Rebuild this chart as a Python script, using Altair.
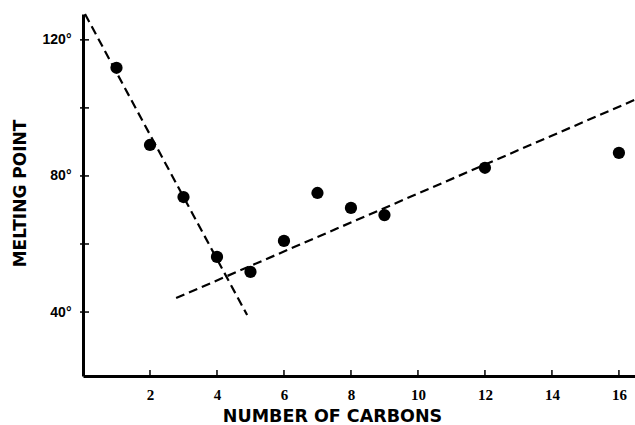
import altair as alt
import pandas as pd

carbons = [1, 2, 3, 4, 5, 6, 7, 8, 9, 12, 16]
melting = [111.8, 89.1, 73.8, 56.2, 51.8, 60.9, 75.0, 70.6, 68.5, 82.4, 86.8]

line1_x = [0.06, 4.9]
line1_y = [127.6, 39.1]
line2_x = [2.78, 16.48]
line2_y = [44.1, 102.4]

x_ticks = [2, 4, 6, 8, 10, 12, 14, 16]
y_ticks = [40, 60, 80, 100, 120]

pts = pd.DataFrame({"c": carbons, "m": melting})
lines = pd.DataFrame({
    "c": line1_x + line2_x,
    "m": line1_y + line2_y,
    "g": ["a", "a", "b", "b"],
})
xt = pd.DataFrame({"c": x_ticks})
yt = pd.DataFrame({"m": y_ticks})

xs = alt.Scale(domain=[0, 16.48], nice=False, zero=False)
ys = alt.Scale(domain=[21.2, 127.6], nice=False, zero=False)

W, H = 552, 362

xaxis = alt.Axis(
    values=x_ticks, tickSize=0, labelPadding=11, domainWidth=3, domainColor="black",
    labelFont="Liberation Serif", labelFontSize=15, labelFontWeight="bold", labelColor="black",
    title="NUMBER OF CARBONS", titleFont="DejaVu Sans", titleFontSize=17.5,
    titleFontWeight="bold", titleColor="black", titleX=249, titleAnchor="start",
    titleAlign="center", titlePadding=5, grid=False,
)
yaxis = alt.Axis(
    values=y_ticks, tickSize=0, labelPadding=12, domainWidth=3, domainColor="black",
    labelFont="Liberation Sans", labelFontSize=14, labelFontWeight="bold", labelColor="black",
    labelExpr="datum.value % 40 == 0 ? datum.label + '°' : ''",
    title="MELTING POINT", titleFont="DejaVu Sans", titleFontSize=17,
    titleFontWeight="bold", titleColor="black", titlePadding=13, titleY=179, grid=False,
)

X = alt.X("c:Q", scale=xs, axis=xaxis)
Y = alt.Y("m:Q", scale=ys, axis=yaxis)

dash = alt.Chart(lines).mark_line(color="black", strokeWidth=2.2, strokeDash=[9, 5]).encode(
    x=X, y=Y, detail="g:N",
)

base_pts = alt.Chart(pts).mark_circle(size=150, color="black", opacity=1).encode(
    x=X, y=Y,
)

xtick = alt.Chart(xt).mark_rule(color="black", strokeWidth=1.5).encode(
    x=X,
    y=alt.value(H),
    y2=alt.value(H - 6),
)
ytick = alt.Chart(yt).mark_rule(color="black", strokeWidth=1.5).encode(
    y=Y,
    x=alt.value(-3),
    x2=alt.value(6),
)

chart = alt.layer(dash, xtick, ytick, base_pts).properties(
    width=W, height=H,
    padding={"left": 83, "top": 14, "right": 0, "bottom": 49},
    autosize="none",
    background="white",
).configure_view(stroke=None).configure_axis(grid=False)

chart.save("out.html", embed_options={"renderer": "svg", "actions": False})
